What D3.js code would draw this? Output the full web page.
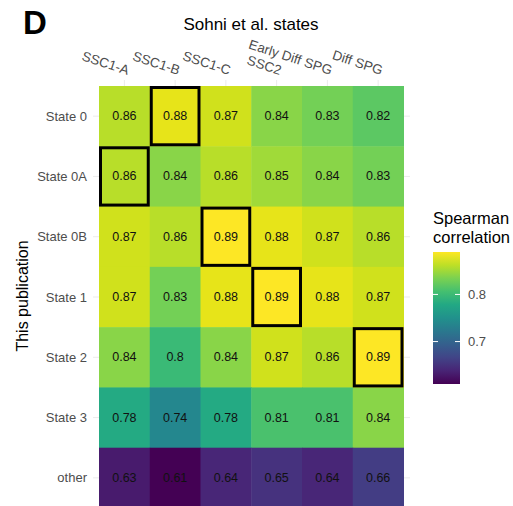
<!DOCTYPE html>
<html><head><meta charset="utf-8">
<script src="https://cdn.jsdelivr.net/npm/d3@7"></script>
<style>html,body{margin:0;padding:0;background:#fff;overflow:hidden}svg{display:block;font-family:"Liberation Sans",Arial,sans-serif}</style>
</head><body><svg id="c" width="513" height="506"></svg>
<script>
const columns = ["SSC1-A","SSC1-B","SSC1-C","SSC2","Early Diff SPG","Diff SPG"];
const rows = ["State 0","State 0A","State 0B","State 1","State 2","State 3","other"];
const state0  = [0.86,0.88,0.87,0.84,0.83,0.82];
const state0A = [0.86,0.84,0.86,0.85,0.84,0.83];
const state0B = [0.87,0.86,0.89,0.88,0.87,0.86];
const state1  = [0.87,0.83,0.88,0.89,0.88,0.87];
const state2  = [0.84,0.80,0.84,0.87,0.86,0.89];
const state3  = [0.78,0.74,0.78,0.81,0.81,0.84];
const other   = [0.63,0.61,0.64,0.65,0.64,0.66];
const highlights = [["State 0","SSC1-B"],["State 0A","SSC1-A"],["State 0B","SSC1-C"],["State 1","SSC2"],["State 2","Diff SPG"]];
const legendTicks = [0.7,0.8];

const matrix = [state0,state0A,state0B,state1,state2,state3,other];
const cells = [];
rows.forEach((r,i)=>columns.forEach((c,j)=>cells.push({row:r,col:c,v:matrix[i][j]})));

const svg = d3.select("#c");
const x = d3.scaleBand().domain(columns).range([99,403.5]);
const y = d3.scaleBand().domain(rows).range([86,508]);
const color = d3.scaleSequential(d3.interpolateViridis).domain([0.61,0.89]);

// grid lines (theme_minimal)
const grid = svg.append("g").attr("stroke","#ebebeb").attr("stroke-width",1);
columns.forEach(c=>grid.append("line").attr("x1",x(c)+x.bandwidth()/2).attr("x2",x(c)+x.bandwidth()/2).attr("y1",80).attr("y2",515));
rows.forEach(r=>grid.append("line").attr("y1",y(r)+y.bandwidth()/2).attr("y2",y(r)+y.bandwidth()/2).attr("x1",93).attr("x2",410));

svg.append("g").selectAll("rect").data(cells).join("rect")
  .attr("x",d=>x(d.col)).attr("y",d=>y(d.row))
  .attr("width",x.bandwidth()+0.5).attr("height",y.bandwidth()+0.5)
  .attr("fill",d=>color(d.v));

svg.append("g").selectAll("text").data(cells).join("text")
  .attr("x",d=>x(d.col)+x.bandwidth()/2).attr("y",d=>y(d.row)+y.bandwidth()/2)
  .attr("text-anchor","middle").attr("dominant-baseline","central")
  .attr("font-size",12.5).attr("fill","#111")
  .text(d=>String(d.v));

svg.append("g").selectAll("rect").data(highlights).join("rect")
  .attr("x",d=>x(d[1])+1.5).attr("y",d=>y(d[0])+1.5)
  .attr("width",x.bandwidth()-3).attr("height",y.bandwidth()-3)
  .attr("fill","none").attr("stroke","#000").attr("stroke-width",3);

// x axis labels (top, rotated)
svg.append("g").selectAll("text").data(columns).join("text")
  .attr("transform",d=>`translate(${x(d)+x.bandwidth()/2+3},75) rotate(18)`)
  .attr("text-anchor","end").attr("font-size",13.5).attr("fill","#4d4d4d")
  .text(d=>d);

// y axis labels
svg.append("g").selectAll("text").data(rows).join("text")
  .attr("x",87).attr("y",d=>y(d)+y.bandwidth()/2)
  .attr("text-anchor","end").attr("dominant-baseline","central")
  .attr("font-size",13).attr("fill","#4d4d4d").text(d=>d);

svg.append("text").attr("x",251).attr("y",30).attr("text-anchor","middle")
  .attr("font-size",17).attr("fill","#000").text("Sohni et al. states");
svg.append("text").attr("transform","translate(28,296) rotate(-90)").attr("text-anchor","middle")
  .attr("font-size",16).attr("fill","#000").text("This publication");
svg.append("text").attr("x",23).attr("y",34).attr("font-size",33).attr("font-weight","bold")
  .attr("fill","#000").text("D");

// legend
const lg = svg.append("g");
lg.append("text").attr("x",433).attr("y",224).attr("font-size",16.5).text("Spearman");
lg.append("text").attr("x",433).attr("y",243).attr("font-size",16.5).text("correlation");
const ly = d3.scaleLinear().domain([0.61,0.89]).range([384,252]);
const defs = svg.append("defs");
const grad = defs.append("linearGradient").attr("id","g").attr("x1",0).attr("y1",1).attr("x2",0).attr("y2",0);
d3.range(0,1.0001,0.1).forEach(t=>grad.append("stop").attr("offset",t).attr("stop-color",color(0.61+t*0.28)));
lg.append("rect").attr("x",433).attr("y",252).attr("width",27).attr("height",132).attr("fill","url(#g)");
legendTicks.forEach(v=>{
  lg.append("line").attr("x1",433).attr("x2",438).attr("y1",ly(v)).attr("y2",ly(v)).attr("stroke","#fff").attr("stroke-width",1);
  lg.append("line").attr("x1",455).attr("x2",460).attr("y1",ly(v)).attr("y2",ly(v)).attr("stroke","#fff").attr("stroke-width",1);
  lg.append("text").attr("x",468).attr("y",ly(v)).attr("dominant-baseline","central").attr("font-size",13).attr("fill","#4d4d4d").text(v.toFixed(1));
});
</script></body></html>
